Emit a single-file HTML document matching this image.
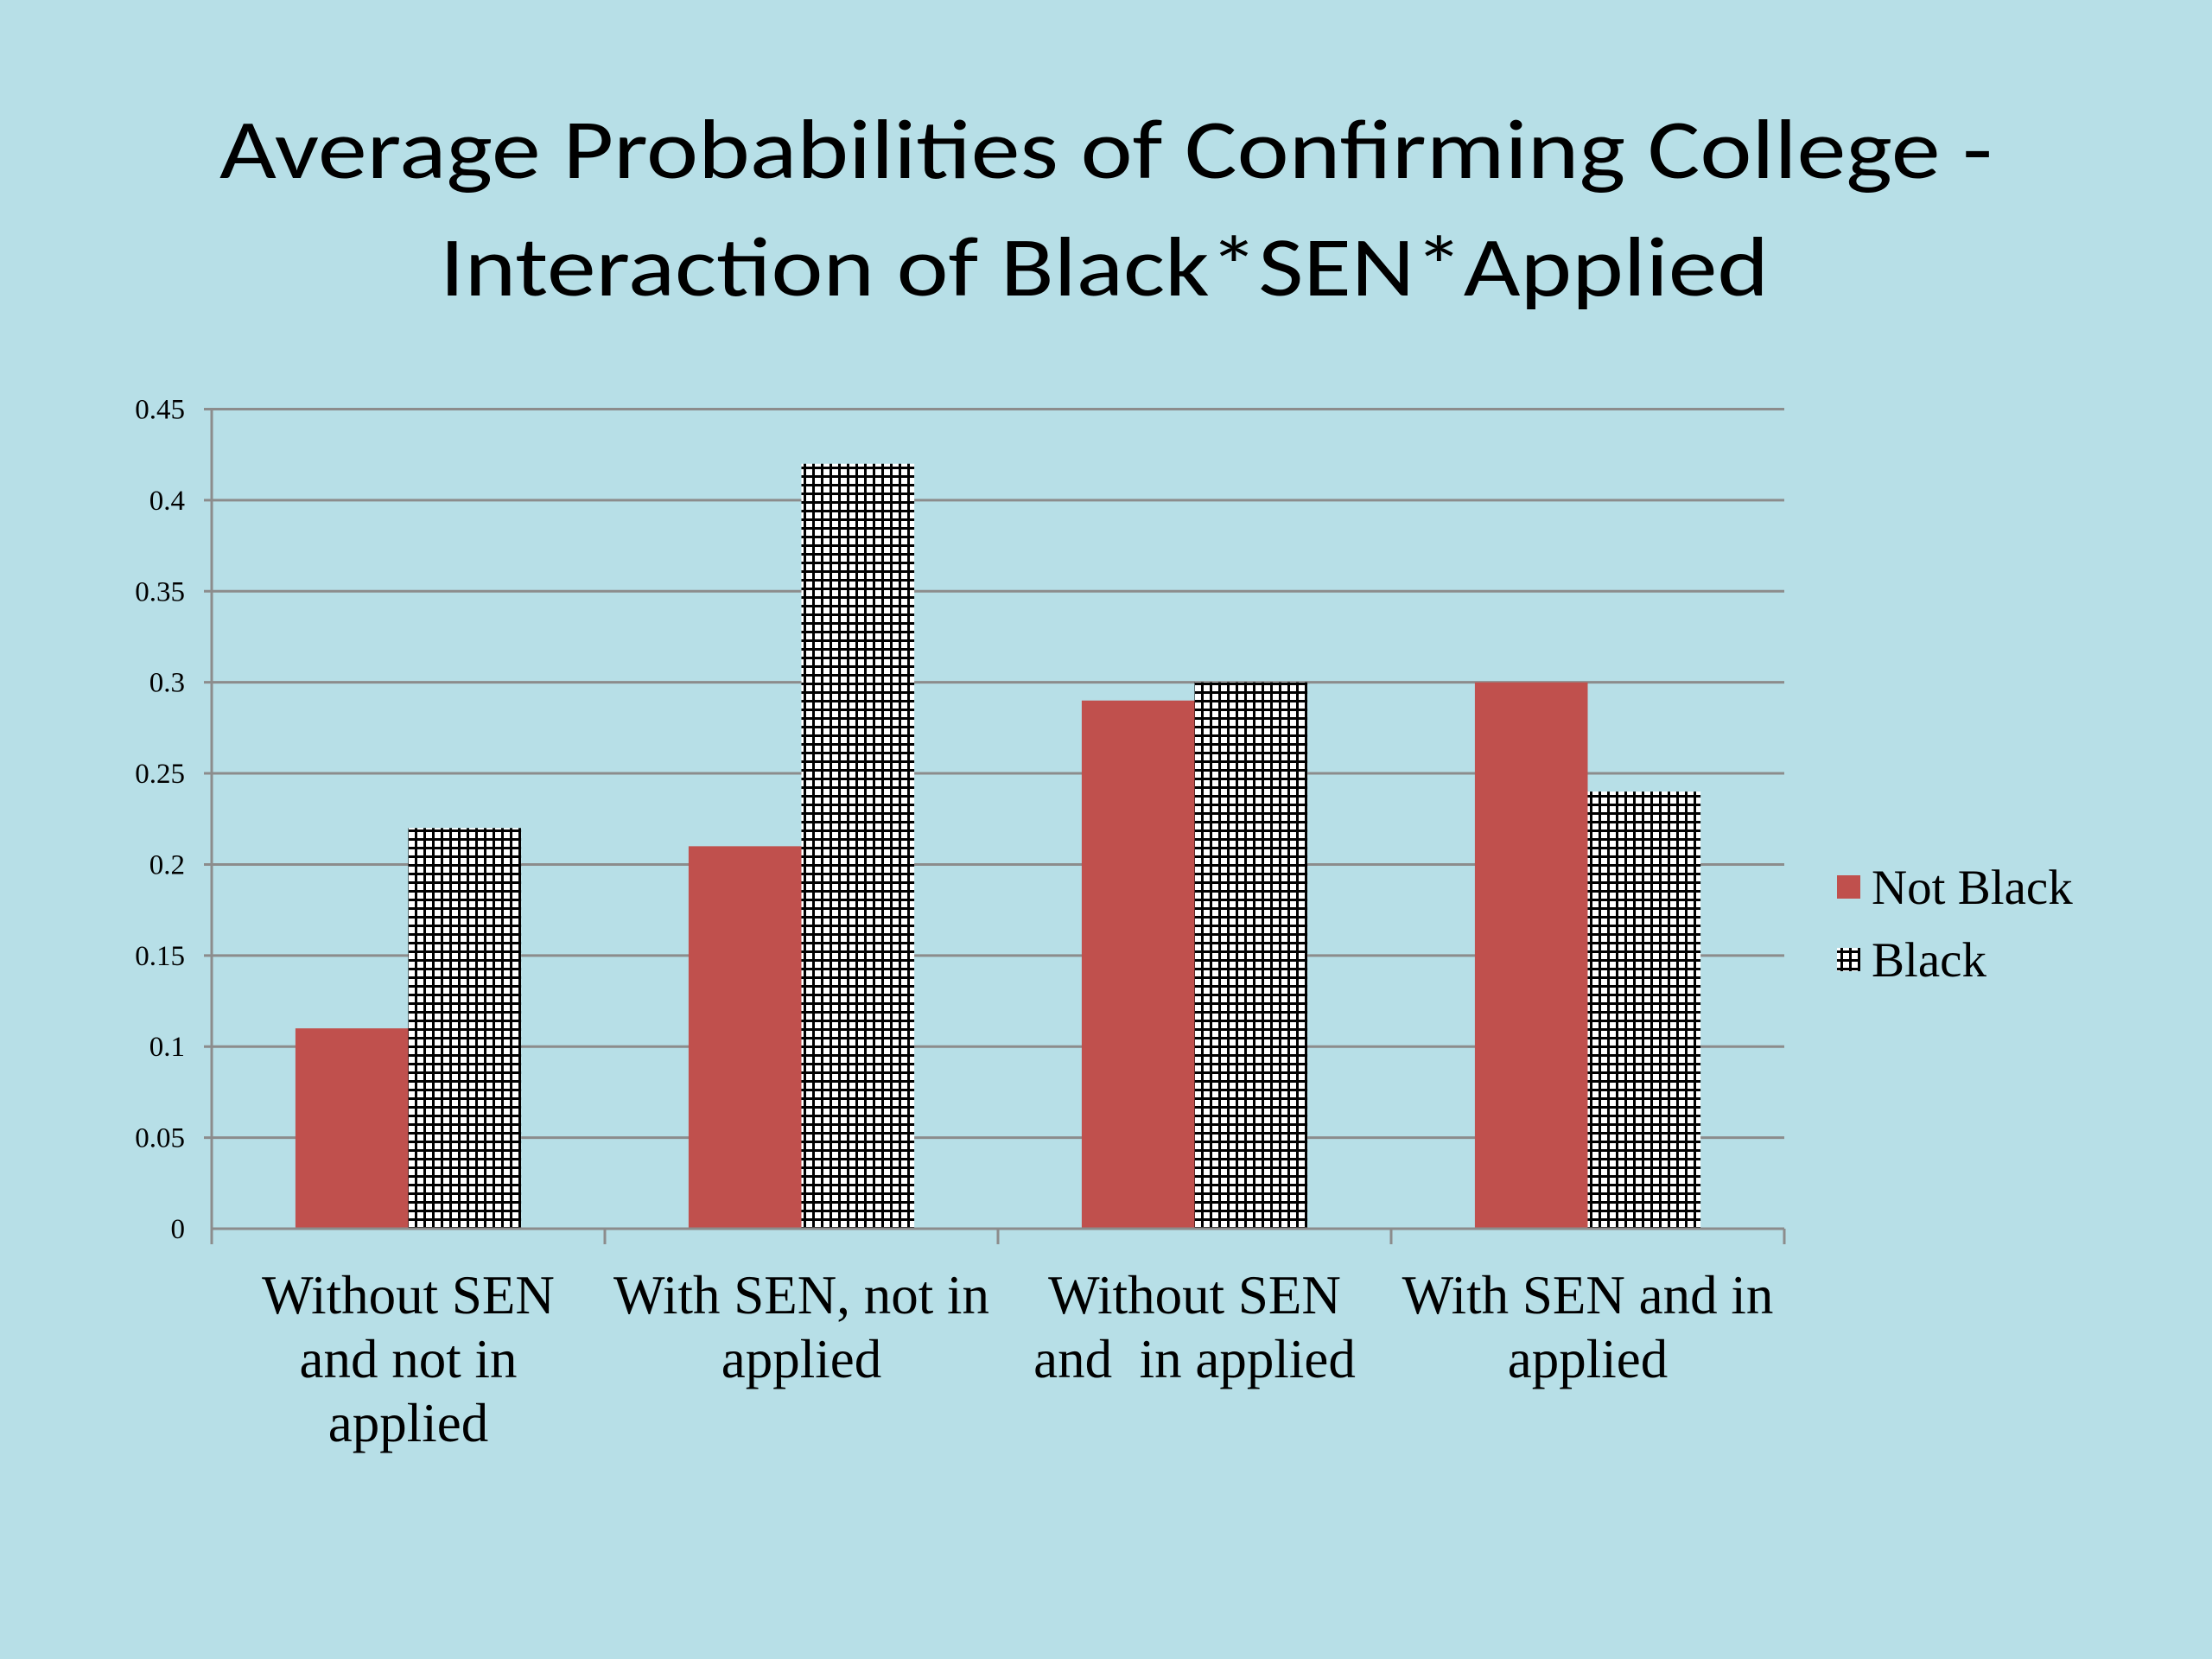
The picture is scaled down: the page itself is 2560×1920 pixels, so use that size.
<!DOCTYPE html>
<html><head><meta charset="utf-8"><style>
html,body{margin:0;padding:0;background:#b7dfe7;}
svg{display:block;}
</style></head><body>
<svg id="chart" width="2560" height="1920" viewBox="0 0 2560 1920" xmlns="http://www.w3.org/2000/svg">
<defs>
<pattern id="grid" patternUnits="userSpaceOnUse" width="10" height="10">
<rect width="10" height="10" fill="#ffffff"/>
<rect x="0" y="0" width="3" height="10" fill="#000"/>
<rect x="0" y="0" width="10" height="3" fill="#000"/>
</pattern>
</defs>
<rect width="2560" height="1920" fill="#b7dfe7"/>
<g font-family="Carlito, 'Liberation Sans', sans-serif" font-size="98" fill="#000">
<text x="1280" y="206" text-anchor="middle" textLength="2052" lengthAdjust="spacingAndGlyphs">Average Probabilities of Confirming College -</text>
<text x="1278" y="342" text-anchor="middle" textLength="1538" lengthAdjust="spacingAndGlyphs">Interaction of Black*SEN*Applied</text>
</g>
<g id="grid-lines"></g>
<g id="bars"></g>
<g id="axes"></g>
<g font-family="'Liberation Serif', serif" font-size="57" fill="#000">
<g>
<rect x="2126" y="1013" width="27" height="27" fill="#c0504d"/>
<text x="2166" y="1046">Not Black</text>
</g>
<g>
<rect x="2126" y="1097" width="27" height="27" fill="url(#grid)"/>
<text x="2166" y="1130">Black</text>
</g>
</g>
</svg>
<script>
const categories = [["Without SEN","and not in","applied"],["With SEN, not in","applied"],["Without SEN","and\u00a0 in applied"],["With SEN and in","applied"]];
const notBlack = [0.11, 0.21, 0.29, 0.30];
const black = [0.22, 0.42, 0.30, 0.24];
const yTicks = [0, 0.05, 0.1, 0.15, 0.2, 0.25, 0.3, 0.35, 0.4, 0.45];
const yTickLabels = ["0","0.05","0.1","0.15","0.2","0.25","0.3","0.35","0.4","0.45"];

const NS = "http://www.w3.org/2000/svg";
const X0 = 245, X1 = 2065, Y0 = 1422, YTOP = 473.5, YMAX = 0.45;
const catW = (X1 - X0) / categories.length;
const barW = catW * 0.287;
function y(v){ return Y0 - (v / YMAX) * (Y0 - YTOP); }
function catCenter(i){ return X0 + catW * (i + 0.5); }
function mk(tag, attrs, parent){ const e=document.createElementNS(NS,tag); for(const k in attrs) e.setAttribute(k,attrs[k]); parent.appendChild(e); return e; }

const gGrid = document.getElementById('grid-lines');
const gBars = document.getElementById('bars');
const gAxes = document.getElementById('axes');

yTicks.forEach((t,i)=>{
  if (t > 0) {
    const l = mk('line',{x1:X0-9,x2:X1,y1:y(t),y2:y(t),stroke:'#8c8c8c','stroke-width':3},gGrid);
    
    
  }
  const tx = mk('text',{x:214,y:y(t)+11,'text-anchor':'end','font-family':"'Liberation Serif', serif",'font-size':33,fill:'#000'},gAxes);
  tx.textContent = yTickLabels[i];
  
  
});

categories.forEach((lines,i)=>{
  const c = catCenter(i);
  const r1 = mk('rect',{x:c-barW,y:y(notBlack[i]),width:barW,height:Y0-y(notBlack[i]),fill:'#c0504d'},gBars);
  
  
  const r2 = mk('rect',{x:c,y:y(black[i]),width:barW,height:Y0-y(black[i]),fill:'url(#grid)'},gBars);
  
  
  const t = mk('text',{'text-anchor':'middle','font-family':"'Liberation Serif', serif",'font-size':63,fill:'#000'},gAxes);
  
  
  lines.forEach((ln,j)=>{
    const s = mk('tspan',{x:c,y:1520+j*74},t);
    s.textContent = ln;
  });
});

const ya = mk('line',{x1:X0,x2:X0,y1:YTOP,y2:Y0,stroke:'#8c8c8c','stroke-width':3},gAxes);


const xa = mk('line',{x1:X0,x2:X1,y1:Y0,y2:Y0,stroke:'#8c8c8c','stroke-width':3},gAxes);


for (let i=0;i<=categories.length;i++){
  const tk = mk('line',{x1:X0+catW*i,x2:X0+catW*i,y1:Y0,y2:Y0+18,stroke:'#8c8c8c','stroke-width':3},gAxes);
  
  
}
</script>
</body></html>
